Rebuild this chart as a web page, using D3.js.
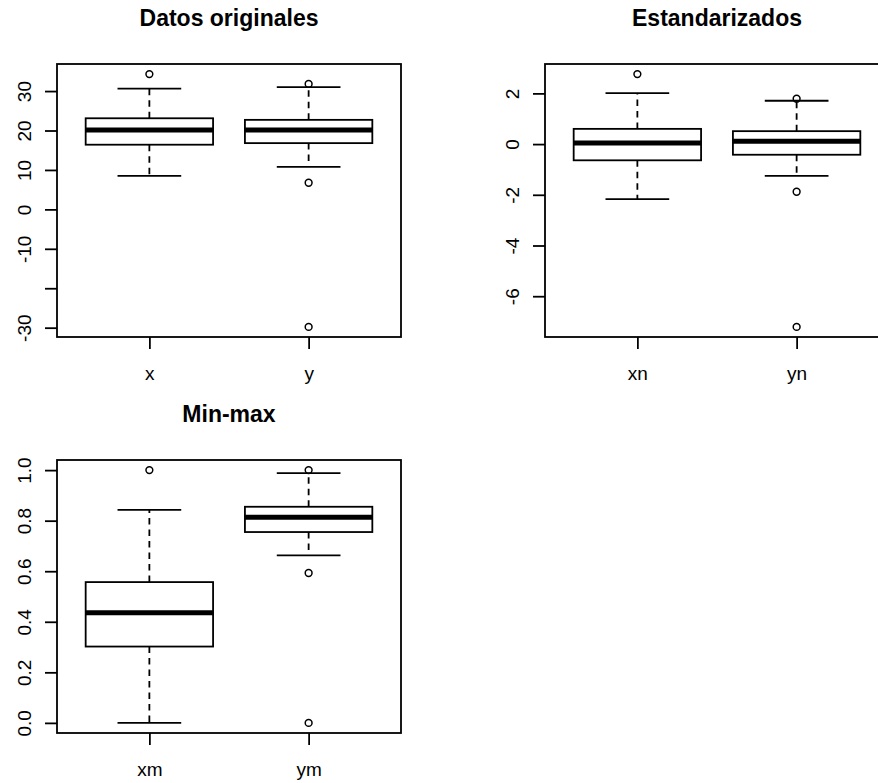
<!DOCTYPE html>
<html>
<head>
<meta charset="utf-8">
<script src="https://cdn.jsdelivr.net/npm/d3@7"></script>
<style>
  body { margin: 0; background: #fff; }
  svg { display: block; font-family: "Liberation Sans", Arial, sans-serif; }
</style>
</head>
<body>
<div id="chart"></div>
<script>

// box stats: [lower whisker, Q1, median, Q3, upper whisker]
var origCats = ["x", "y"];
var origStats = [[8.5, 16.4, 20.1, 23.1, 30.6], [10.8, 16.8, 20.1, 22.7, 31.0]];
var origOut = [[34.3], [31.8, 6.75, -29.8]];

var stdCats = ["xn", "yn"];
var stdStats = [[-2.17, -0.64, 0.04, 0.60, 2.01], [-1.25, -0.42, 0.11, 0.51, 1.71]];
var stdOut = [[2.76], [1.79, -1.88, -7.21]];

var mmCats = ["xm", "ym"];
var mmStats = [[0.0, 0.302, 0.436, 0.557, 0.843], [0.663, 0.755, 0.814, 0.855, 0.988]];
var mmOut = [[1.0], [1.0, 0.593, 0.0]];

var svgWidth = 878, svgHeight = 783;

// plain hyphen for negative numbers, like R
var locale = d3.formatLocale({ decimal: ".", thousands: ",", grouping: [3], currency: ["", ""], minus: "-" });

var svg = d3.select("#chart").append("svg")
    .attr("width", svgWidth)
    .attr("height", svgHeight);

svg.append("rect")
    .attr("width", svgWidth)
    .attr("height", svgHeight)
    .attr("fill", "#fff");

// panel layout (plot regions)
var panels = [
    { title: "Datos originales", cats: origCats, stats: origStats, out: origOut,
      left: 57, top: 64, width: 344, height: 273, fmt: locale.format("d"), hide: [-20] },
    { title: "Estandarizados", cats: stdCats, stats: stdStats, out: stdOut,
      left: 545, top: 64, width: 344, height: 273, fmt: locale.format("d"), hide: [] },
    { title: "Min-max", cats: mmCats, stats: mmStats, out: mmOut,
      left: 57, top: 460, width: 344, height: 273, fmt: locale.format(".1f"), hide: [] }
];

var axisFont = "19px";
var lw = 1.8;

function drawPanel(p) {
    var g = svg.append("g")
        .attr("transform", `translate(${p.left}, ${p.top})`);

    // R style: data range extended by 4% each side
    var all = [];
    p.stats.forEach(s => all = all.concat(s));
    p.out.forEach(o => all = all.concat(o));
    var lo = d3.min(all), hi = d3.max(all);
    var pad = (hi - lo) * 0.04;

    var yScale = d3.scaleLinear()
        .domain([lo - pad, hi + pad])
        .range([p.height, 0]);

    var xScale = d3.scalePoint()
        .domain(p.cats)
        .range([0, p.width])
        .padding(0.58);

    var step = xScale.step();
    var boxHalf = step * 0.4;
    var capHalf = step * 0.2;

    // y axis
    var yAxis = d3.axisLeft(yScale)
        .ticks(6)
        .tickSize(12)
        .tickFormat(d => p.hide.indexOf(d) >= 0 ? "" : p.fmt(d));

    var yG = g.append("g").call(yAxis);
    yG.select(".domain").remove();
    yG.selectAll(".tick line").attr("stroke", "#000").attr("stroke-width", lw);
    yG.selectAll(".tick text")
        .attr("x", null)
        .attr("dy", "0.35em")
        .attr("transform", "translate(-33,0) rotate(-90)")
        .style("text-anchor", "middle")
        .style("font-size", axisFont)
        .style("font-family", "'Liberation Sans', Arial, sans-serif")
        .attr("fill", "#000");

    // x axis
    var xAxis = d3.axisBottom(xScale).tickSize(12);
    var xG = g.append("g")
        .attr("transform", `translate(0, ${p.height})`)
        .call(xAxis);
    xG.select(".domain").remove();
    xG.selectAll(".tick line").attr("stroke", "#000").attr("stroke-width", lw);
    xG.selectAll(".tick text")
        .attr("y", 43)
        .attr("dy", 0)
        .style("font-size", axisFont)
        .style("font-family", "'Liberation Sans', Arial, sans-serif")
        .attr("fill", "#000");

    // boxes
    p.cats.forEach(function(c, i) {
        var s = p.stats[i];
        var cx = xScale(c);

        // whiskers (dashed)
        g.append("line")
            .attr("x1", cx).attr("x2", cx)
            .attr("y1", yScale(s[3])).attr("y2", yScale(s[4]))
            .attr("stroke", "#000").attr("stroke-width", lw)
            .attr("stroke-dasharray", "6.5,5");
        g.append("line")
            .attr("x1", cx).attr("x2", cx)
            .attr("y1", yScale(s[1])).attr("y2", yScale(s[0]))
            .attr("stroke", "#000").attr("stroke-width", lw)
            .attr("stroke-dasharray", "6.5,5");

        // caps
        [s[0], s[4]].forEach(function(v) {
            g.append("line")
                .attr("x1", cx - capHalf).attr("x2", cx + capHalf)
                .attr("y1", yScale(v)).attr("y2", yScale(v))
                .attr("stroke", "#000").attr("stroke-width", lw);
        });

        // box
        g.append("rect")
            .attr("x", cx - boxHalf)
            .attr("y", yScale(s[3]))
            .attr("width", boxHalf * 2)
            .attr("height", yScale(s[1]) - yScale(s[3]))
            .attr("fill", "#fff")
            .attr("stroke", "#000").attr("stroke-width", lw);

        // median
        g.append("line")
            .attr("x1", cx - boxHalf).attr("x2", cx + boxHalf)
            .attr("y1", yScale(s[2])).attr("y2", yScale(s[2]))
            .attr("stroke", "#000").attr("stroke-width", 5);

        // outliers
        g.selectAll(null)
            .data(p.out[i])
            .enter()
            .append("circle")
            .attr("cx", cx)
            .attr("cy", d => yScale(d))
            .attr("r", 3.4)
            .attr("fill", "none")
            .attr("stroke", "#000").attr("stroke-width", 1.5);
    });

    // frame
    g.append("rect")
        .attr("width", p.width)
        .attr("height", p.height)
        .attr("fill", "none")
        .attr("stroke", "#000").attr("stroke-width", lw);

    // title
    g.append("text")
        .attr("x", p.width / 2)
        .attr("y", -38)
        .attr("text-anchor", "middle")
        .style("font-size", "23px")
        .style("font-weight", "bold")
        .text(p.title);
}

panels.forEach(drawPanel);

</script>
</body>
</html>
